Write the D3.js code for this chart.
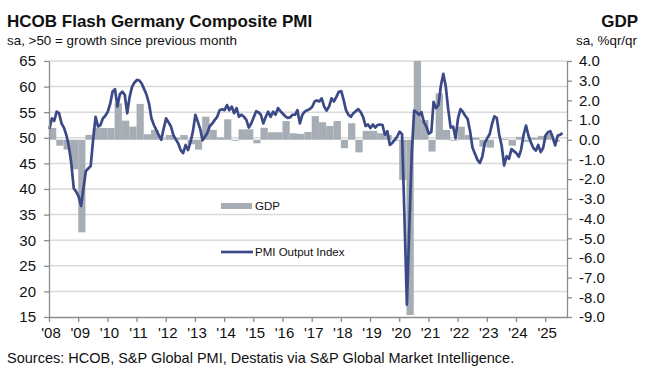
<!DOCTYPE html>
<html>
<head>
<meta charset="utf-8">
<script src="https://cdn.jsdelivr.net/npm/d3@7"></script>
<style>
  body { margin: 0; background: #fff; }
  svg text { font-family: "Liberation Sans", Arial, sans-serif; fill: #111; }
</style>
</head>
<body>
<div id="chart"></div>
<script>
// PMI output index, monthly from Jan 2008
var pmi = [
  51.7, 53.8, 53.3, 55.1, 54.8, 52.8, 52.0, 50.5, 48.3, 45.0, 40.1, 39.5,
  38.5, 36.7, 40.0, 43.5, 44.0, 44.5, 49.6, 54.1, 52.2, 52.5, 53.8, 54.3,
  55.1, 56.7, 59.0, 59.5, 56.1, 58.5, 59.0, 58.4, 54.8, 58.0, 60.0, 60.8,
  61.3, 61.2, 60.6, 59.5, 58.4, 56.7, 53.8, 52.5, 51.5, 50.5, 49.6, 51.8,
  53.8, 53.0, 52.2, 50.5, 49.7, 48.9, 47.6, 47.0, 48.6, 47.6, 49.2, 51.2,
  54.5, 53.1, 51.8, 49.5, 50.2, 51.0, 52.3, 52.8, 53.5, 54.1, 55.4, 55.6,
  55.4, 56.4, 55.4, 56.1, 54.8, 55.8, 54.1, 54.5, 54.1, 53.5, 52.0, 52.8,
  54.0, 55.2, 55.0, 54.5, 52.8, 54.1, 55.1, 54.1, 55.1, 54.5, 55.8, 55.2,
  54.7, 54.2, 53.9, 54.0, 54.5, 54.5, 55.4, 52.8, 54.5, 55.1, 55.4, 55.6,
  56.0, 57.1, 57.3, 57.1, 57.7, 56.1, 55.3, 56.1, 57.7, 57.1, 58.0, 59.0,
  59.1, 57.3, 55.4, 54.5, 54.1, 54.8, 55.2, 55.6, 55.0, 54.1, 52.3, 52.6,
  51.9, 52.6, 52.0, 52.5, 52.6, 52.5, 50.6, 51.3, 48.6, 49.0, 49.6, 50.2,
  51.2, 50.7, 35.0, 17.4, 32.3, 47.0, 55.3, 55.0, 54.5, 55.0, 53.0, 52.2,
  50.8, 51.1, 57.0, 55.8, 56.4, 60.2, 62.5, 60.0, 55.5, 52.0, 52.2, 49.9,
  53.8, 55.6, 55.1, 54.3, 53.7, 51.3, 48.1, 46.9, 45.7, 45.1, 46.3, 49.0,
  49.9, 50.7, 52.6, 54.2, 53.9, 50.6, 48.5, 44.6, 46.4, 45.9, 47.8, 47.4,
  47.0, 46.3, 47.7, 50.6, 52.4, 50.4, 49.1, 48.0, 47.5, 48.6, 47.2, 48.0,
  50.5, 51.1, 51.3, 50.1, 48.5, 50.4, 50.6, 50.9
];

// GDP % q/q, quarterly from Q1 2008
var gdp = [
  0.6, -0.3, -0.5, -1.5,
  -4.7, 0.25, 0.6, 0.6,
  0.6, 1.85, 0.97, 0.67,
  1.82, 0.28, 0.5, 0.05,
  0.24, 0.1, 0.24, -0.23,
  -0.5, 1.17, 0.5, 0.12,
  1.04, -0.05, 0.53, 0.53,
  -0.18, 0.61, 0.38, 0.38,
  0.95, 0.33, 0.3, 0.4,
  1.2, 0.89, 0.7, 0.95,
  -0.43, 0.84, -0.64, 0.45,
  0.45, 0.33, 0.24, -0.05,
  -2.04, -8.9, 8.7, 1.0,
  -0.6, 2.36, 0.5, -0.05,
  0.66, 0.24, 0.1, -0.35,
  -0.4, 0.0, 0.05, -0.3,
  0.15, -0.1, 0.1, 0.2,
  0.3, -0.1
];

var leftTicks = [15, 20, 25, 30, 35, 40, 45, 50, 55, 60, 65];
var rightTicks = [-9, -8, -7, -6, -5, -4, -3, -2, -1, 0, 1, 2, 3, 4];
var years = d3.range(2008, 2026);

var width = 645, height = 376;
var margin = { top: 61, right: 78, bottom: 59, left: 49 };
var plotW = width - margin.left - margin.right;
var plotH = height - margin.top - margin.bottom;

var lineColor = "#3b4a87";
var barColor = "#a6adb4";
var axisColor = "#8c8c8c";

var svg = d3.select("#chart").append("svg")
    .attr("width", width)
    .attr("height", height);

// Titles
svg.append("text").attr("x", 7).attr("y", 27)
    .style("font-size", "17px").style("font-weight", "bold")
    .text("HCOB Flash Germany Composite PMI");
svg.append("text").attr("x", 7).attr("y", 45)
    .style("font-size", "13.4px")
    .text("sa, >50 = growth since previous month");
svg.append("text").attr("x", 638).attr("y", 27)
    .attr("text-anchor", "end")
    .style("font-size", "17px").style("font-weight", "bold")
    .text("GDP");
svg.append("text").attr("x", 637).attr("y", 45)
    .attr("text-anchor", "end")
    .style("font-size", "13.4px")
    .text("sa, %qr/qr");
svg.append("text").attr("x", 7).attr("y", 363)
    .style("font-size", "14.5px")
    .text("Sources: HCOB, S&P Global PMI, Destatis via S&P Global Market Intelligence.");

var g = svg.append("g")
    .attr("transform", "translate(" + margin.left + "," + margin.top + ")");

// Scales
var x = d3.scaleTime()
    .domain([new Date(2008, 0, 1), new Date(2025, 9, 1)])
    .range([0, plotW]);
var yL = d3.scaleLinear().domain([15, 65]).range([plotH, 0]);
var yR = d3.scaleLinear().domain([-9, 4]).range([plotH, 0]);

// Gridlines
g.append("g").selectAll("line")
    .data(leftTicks.filter(function (d) { return d > 15; }))
    .enter().append("line")
    .attr("x1", 0).attr("x2", plotW)
    .attr("y1", function (d) { return yL(d); })
    .attr("y2", function (d) { return yL(d); })
    .attr("stroke", "#d9d9d9")
    .attr("stroke-width", 1.5);

// Clip for the bars that run off the scale
g.append("clipPath").attr("id", "plotClip")
    .append("rect").attr("width", plotW).attr("height", plotH);

// GDP bars (each spans its quarter)
g.append("g").attr("clip-path", "url(#plotClip)")
    .selectAll("rect")
    .data(gdp)
    .enter().append("rect")
    .attr("x", function (d, i) { return x(new Date(2008, i * 3, 1)); })
    .attr("width", function (d, i) { return x(new Date(2008, i * 3 + 3, 1)) - x(new Date(2008, i * 3, 1)); })
    .attr("y", function (d) { return yR(Math.max(0, d)); })
    .attr("height", function (d) { return Math.abs(yR(d) - yR(0)); })
    .attr("fill", barColor);

// PMI line
var line = d3.line()
    .x(function (d, i) { return x(new Date(2008, i, 6)); })
    .y(function (d) { return yL(d); });

g.append("path")
    .datum(pmi)
    .attr("d", line)
    .attr("fill", "none")
    .attr("stroke", lineColor)
    .attr("stroke-width", 2.7)
    .attr("stroke-linejoin", "round");

// Axes
function styleAxis(sel) {
    sel.select(".domain").attr("stroke", axisColor).attr("stroke-width", 1.3);
    sel.selectAll(".tick line").attr("stroke", axisColor).attr("stroke-width", 1.3);
    sel.selectAll(".tick text").style("font-size", "15px").attr("fill", "#111");
}

g.append("g")
    .call(d3.axisLeft(yL).tickValues(leftTicks).tickSize(5).tickSizeOuter(0).tickPadding(8))
    .call(styleAxis);

g.append("g")
    .attr("transform", "translate(" + plotW + ",0)")
    .call(d3.axisRight(yR).tickValues(rightTicks).tickSize(5).tickSizeOuter(0).tickPadding(7)
        .tickFormat(function (d) { return d.toFixed(1); }))
    .call(styleAxis);

g.append("g")
    .attr("transform", "translate(0," + plotH + ")")
    .call(d3.axisBottom(x)
        .tickValues(years.map(function (y) { return new Date(y, 0, 1); }))
        .tickSize(5).tickSizeOuter(0).tickPadding(5)
        .tickFormat(function (d) { return "'" + String(d.getFullYear()).slice(2); }))
    .call(styleAxis)
    .selectAll(".tick text").attr("dx", "1.5");

// Legend
var legend = g.append("g");
legend.append("rect")
    .attr("x", 172).attr("y", 142).attr("width", 31).attr("height", 6)
    .attr("fill", barColor);
legend.append("text")
    .attr("x", 206).attr("y", 149)
    .style("font-size", "11.5px")
    .text("GDP");
legend.append("line")
    .attr("x1", 172).attr("x2", 204).attr("y1", 191).attr("y2", 191)
    .attr("stroke", lineColor).attr("stroke-width", 2.7);
legend.append("text")
    .attr("x", 206).attr("y", 195)
    .style("font-size", "11.5px")
    .text("PMI Output Index");
</script>
</body>
</html>
